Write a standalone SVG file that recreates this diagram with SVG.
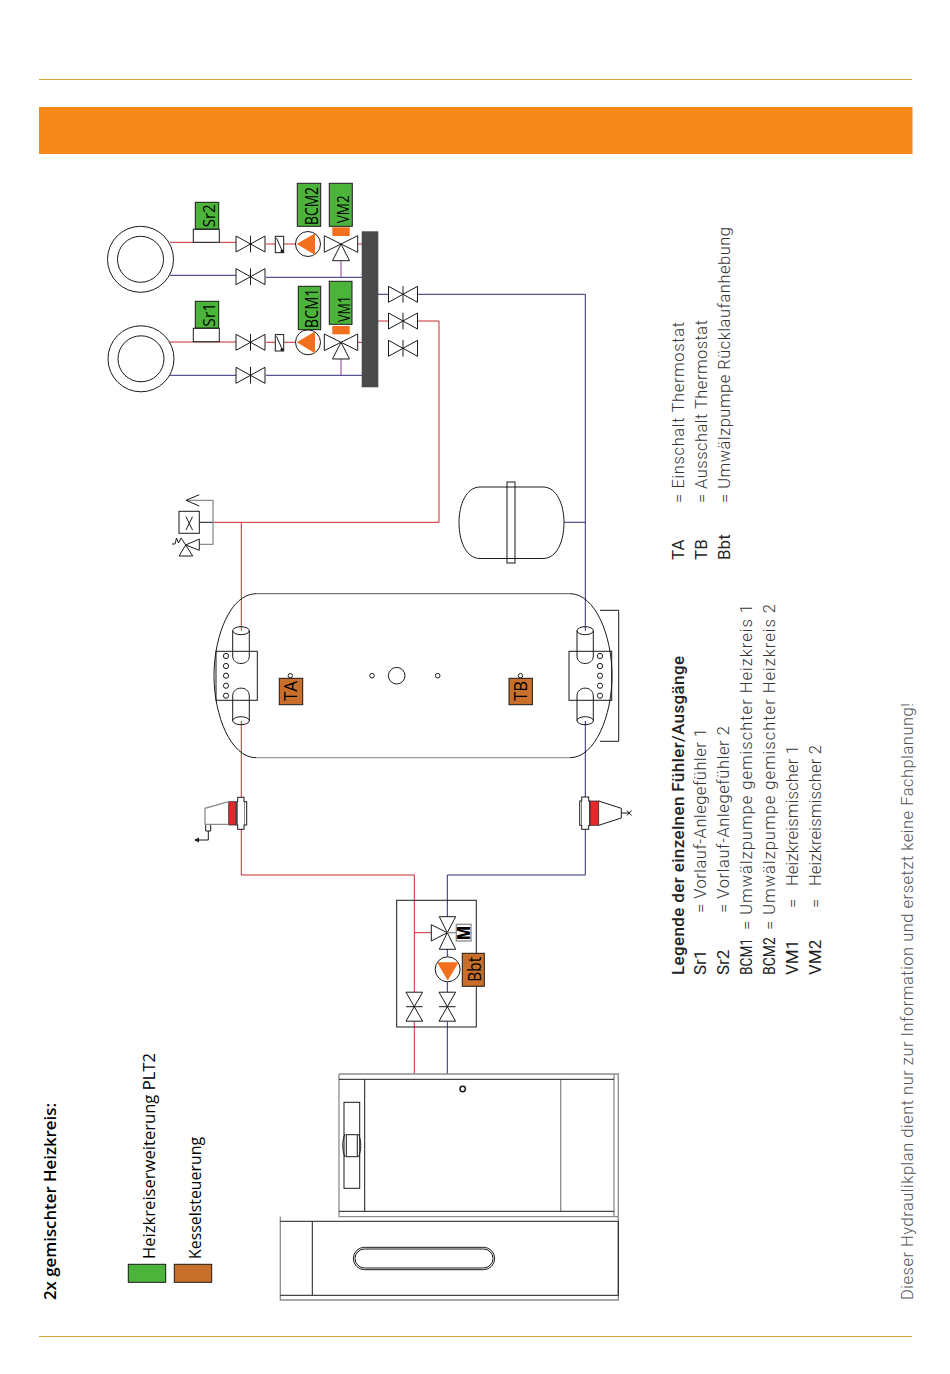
<svg xmlns="http://www.w3.org/2000/svg" width="950" height="1374" viewBox="0 0 950 1374">
<style>
.k{fill:none;stroke:#1a1a1a;stroke-width:1}
.w{fill:#fff;stroke:#1a1a1a;stroke-width:1}
.g{fill:none;stroke:#8c8c8c;stroke-width:1.3}
.r{fill:none;stroke:#c62a2f;stroke-width:1}
.b{fill:none;stroke:#2a2c78;stroke-width:1}
.p{fill:none;stroke:#8a3a8f;stroke-width:1}
.gr{fill:#4cb43a;stroke:#1a1a1a;stroke-width:1}
.br{fill:#c96f2c;stroke:#1a1a1a;stroke-width:1}
.or{fill:#f26f1e}
.l{font-family:"Open Sans","Noto Sans",sans-serif;fill:#000}
.t{font-family:Roboto,"Liberation Sans",sans-serif;font-weight:300;fill:#333;font-size:16.5px}
.h{font-family:Roboto,"Liberation Sans",sans-serif;font-weight:400;fill:#222;font-size:17px}
</style>
<defs>
<g id="vh"><path class="w" d="M-14.5-8 0 0-14.5 8ZM14.5-8 0 0 14.5 8Z"/><path class="k" d="M0-8.300V8.300"/></g>
<g id="vv"><path class="w" d="M-8.300-14.500 0 0 8.300-14.500ZM-8.300 14.500 0 0 8.300 14.500Z"/><path class="k" d="M-8.300 0H8.300"/></g>
<g id="mix"><path class="w" d="M-16.700-8.300 0 0-16.700 8.300ZM16.700-8.300 0 0 16.700 8.300ZM-8.500 16.700 0 0 8.500 16.700Z"/></g>
<g id="pump"><circle class="w" r="12.500"/><path class="or" d="M-11.300 0 7-10.700V11Z"/></g>
</defs>

<g id="frame">
<path d="M39 79.500H912M39 1336.500H912" fill="none" stroke="#d9a03c" stroke-width="1"/>
<rect x="39" y="107" width="873.500" height="47" fill="#f7881a"/>
</g>

<g id="connectors">
<path class="r" d="M170 242.300H236M266 244H275M284 244H296M350 244H362M170 342H236M266 342.300H275M284 342.300H296M350 342.300H362"/>
<path class="r" d="M378 321H389M418 321H439V522.300H213M241.300 522.300V630.700M241.300 721V797M241.300 829V875H414.300V917"/>
<path class="r" d="M414.300 932.700H431M414.300 917V992M414.300 1021.700V1074"/>
<path class="b" d="M170 275.300H236M266 277.300H362M170 375.300H236M266 375.300H362"/>
<path class="b" d="M378 294.300H389M418 294.300H585.300V630.700M585.300 721V797M585.300 829V875H447.300V917M447.300 949V957M447.300 982V992M447.300 1021.700V1074M564 522.300H585.300"/>
<path class="p" d="M341 261V277M341 359V375.300"/>
<path class="k" d="M199.300 522.300H213"/>
<path class="g" d="M186 500.300H213V544.300H199.300"/>
</g>

<g id="coil-2"><circle class="k" cx="140.500" cy="259.300" r="33"/><circle class="k" cx="140.500" cy="259.300" r="23"/></g>
<g id="coil-1"><circle class="k" cx="141" cy="358.800" r="33"/><circle class="k" cx="141" cy="358.800" r="23"/></g>

<g id="sr2"><rect class="w" x="193.300" y="229.300" width="26" height="13"/><rect class="gr" x="195.300" y="202.300" width="23.400" height="26.700"/><text class="l" font-size="17" transform="translate(215 227.300) rotate(-90)" textLength="23" lengthAdjust="spacingAndGlyphs">Sr2</text></g>
<g id="sr1"><rect class="w" x="193.300" y="328.300" width="26" height="13.400"/><rect class="gr" x="195.300" y="301.300" width="23.400" height="26.700"/><text class="l" font-size="17" transform="translate(215 326.700) rotate(-90)" textLength="24" lengthAdjust="spacingAndGlyphs">Sr1</text></g>

<g id="valves-2"><use href="#vh" x="250.500" y="244"/><use href="#vh" x="250.500" y="276.700"/></g>
<g id="valves-1"><use href="#vh" x="250.500" y="342.300"/><use href="#vh" x="250.500" y="375.300"/></g>

<g id="flow-2"><rect class="w" x="275.300" y="236.300" width="8.400" height="16.400"/><path class="k" d="M276.500 238 282 250.500"/><circle cx="282" cy="251" r="1.500" fill="#111"/></g>
<g id="flow-1"><rect class="w" x="275.300" y="334.600" width="8.400" height="16.400"/><path class="k" d="M276.500 336.300 282 349"/><circle cx="282" cy="349.500" r="1.500" fill="#111"/></g>

<g id="pump-2"><use href="#pump" x="308" y="244"/></g>
<g id="pump-1"><use href="#pump" x="308" y="342.300"/></g>

<g id="bcm2"><rect class="gr" x="297.300" y="183.300" width="23.400" height="43"/><text class="l" font-size="19" transform="translate(318 225) rotate(-90)" textLength="38" lengthAdjust="spacingAndGlyphs">BCM2</text></g>
<g id="bcm1"><rect class="gr" x="298.300" y="286.300" width="22.400" height="43.400"/><text class="l" font-size="19" transform="translate(318.300 328.300) rotate(-90)" textLength="40" lengthAdjust="spacingAndGlyphs">BCM1</text></g>

<g id="vm2"><rect class="gr" x="329.300" y="183.300" width="23" height="43"/><rect x="332.300" y="227.300" width="17.400" height="8.700" class="or"/><text class="l" font-size="17" transform="translate(349 223.300) rotate(-90)" textLength="28" lengthAdjust="spacingAndGlyphs">VM2</text><use href="#mix" x="341" y="244"/></g>
<g id="vm1"><rect class="gr" x="329.300" y="281.300" width="22.700" height="43"/><rect x="332.300" y="326" width="17.400" height="8.300" class="or"/><text class="l" font-size="17" transform="translate(349.500 322) rotate(-90)" textLength="26" lengthAdjust="spacingAndGlyphs">VM1</text><use href="#mix" x="341" y="342.300"/></g>

<g id="manifold"><rect x="361.700" y="231.300" width="16.600" height="156" fill="#4a4a4a"/></g>
<g id="manifold-valves"><use href="#vh" x="403" y="294.300"/><use href="#vh" x="403" y="321"/><use href="#vh" x="403" y="348.300"/></g>

<g id="safety">
<rect class="k" x="179" y="511.300" width="20.300" height="22"/>
<path class="k" d="M186 516.700 192.500 530M192.500 516.700 186 530" stroke-width="1.200"/>
<path class="k" d="M199.300 494.700 186 500.300 199.300 506"/>
<path class="w" d="M185.700 545 199.300 539V550.300ZM185.700 545 179 556H192.700Z"/>
<path class="k" d="M185.700 545 181 538 178.500 543 176.500 538 175 544H172"/>
</g>

<g id="tank">
<path d="M256 593.700H570" fill="none" stroke="#555" stroke-width="1"/>
<path d="M256 757.700H570" fill="none" stroke="#999" stroke-width="1.200"/>
<path class="k" d="M256 593.700C231 593.700 214 635 214 675.700C214 716 231 757.700 256 757.700M570 593.700C595 593.700 612 635 612 675.700C612 716 595 757.700 570 757.700"/>
<path class="k" d="M600 610.300H618.700V741.300H600"/>
<rect class="k" x="216" y="651.300" width="41.300" height="49"/>
<rect class="k" x="569" y="651.300" width="42.700" height="49"/>
<path class="k" d="M232.700 630.700V656C232.700 666 249.300 666 249.300 656V630.700M232.700 720.700V696C232.700 685.500 249.300 685.500 249.300 696V720.700"/>
<ellipse class="k" cx="241" cy="630.700" rx="8.300" ry="4"/><ellipse class="k" cx="241" cy="720.700" rx="8.300" ry="4"/>
<path class="k" d="M577 630.700V656C577 666 593.300 666 593.300 656V630.700M577 720.700V696C577 685.500 593.300 685.500 593.300 696V720.700"/>
<ellipse class="k" cx="585.200" cy="630.700" rx="8.200" ry="4"/><ellipse class="k" cx="585.200" cy="720.700" rx="8.200" ry="4"/>
<circle class="k" cx="226" cy="656" r="2.600"/><circle class="k" cx="226" cy="666" r="2.600"/><circle class="k" cx="226" cy="675.700" r="2.600"/><circle class="k" cx="226" cy="685.700" r="2.600"/><circle class="k" cx="226" cy="695.700" r="2.600"/>
<circle class="k" cx="600" cy="656" r="2.600"/><circle class="k" cx="600" cy="666" r="2.600"/><circle class="k" cx="600" cy="675.700" r="2.600"/><circle class="k" cx="600" cy="685.700" r="2.600"/><circle class="k" cx="600" cy="695.700" r="2.600"/>
<circle class="k" cx="396.700" cy="675.700" r="8.300"/><circle class="k" cx="372" cy="675.700" r="2.300"/><circle class="k" cx="437.700" cy="675.700" r="2.300"/>
<circle class="k" cx="290.300" cy="675.700" r="2.200"/><circle class="k" cx="520.500" cy="675.700" r="2.200"/>
</g>
<g id="ta"><rect class="br" x="279.300" y="678.300" width="23.400" height="26.400"/><text class="l" font-size="19" transform="translate(297.300 701) rotate(-90)" textLength="20" lengthAdjust="spacingAndGlyphs">TA</text></g>
<g id="tb"><rect class="br" x="509" y="678.300" width="23.400" height="26.400"/><text class="l" font-size="19" transform="translate(527 701) rotate(-90)" textLength="20" lengthAdjust="spacingAndGlyphs">TB</text></g>

<g id="vessel">
<path class="k" d="M480 487H543C557 487 564 505 564 522.500C564 541 557 558.500 543 558.500H480C466 558.500 459 541 459 522.500C459 505 466 487 480 487Z"/>
<rect class="k" x="507" y="482" width="8" height="81"/>
</g>

<g id="pump-flow">
<rect class="w" x="236.700" y="801.700" width="10" height="23.300"/><rect class="w" x="237.700" y="797.300" width="6.300" height="32"/><path d="M237.700 802H244V824.500H237.700Z" fill="#fff"/>
<rect x="228.700" y="801.700" width="7" height="23.300" fill="#e5262b" stroke="#333" stroke-width=".8"/>
<path class="g" d="M228.700 801.700 205 808.300V824.300H228.700"/>
<path class="k" d="M205.700 825V831H210.700V825M208.300 831V840H195"/><path d="M194 840 199 837.500V842.500Z" fill="#222"/>
</g>
<g id="pump-return">
<rect class="w" x="579.700" y="801" width="10" height="24.300"/><rect class="w" x="581.700" y="797" width="7" height="32.300"/><path d="M581.700 801.500H589V825H581.700Z" fill="#fff"/>
<rect x="590" y="801" width="8.700" height="24.300" fill="#e5262b" stroke="#333" stroke-width=".8"/>
<path class="k" d="M598.700 801 621.300 808.300V818L598.700 825.300M621.300 813H629.300M627 810.500 631.500 815.500M631.500 810.500 627 815.500"/>
</g>

<g id="mixing-group">
<rect class="k" x="396.700" y="900.300" width="79.600" height="126.700"/>
<use href="#vv" x="414.300" y="1006.700"/><use href="#vv" x="447.300" y="1006.700"/>
<use href="#pump" transform="translate(447.700 969.300) rotate(-90)"/>
<path class="w" d="M439.300 916.700H455.700L447.300 932.700ZM439.300 949.300H455.700L447.300 932.700ZM431.300 924.700V941L447.300 932.700Z"/>
<path class="g" d="M447.300 932.700H456.300"/>
<rect x="456.300" y="924.300" width="14.700" height="16.700" fill="#fff" stroke="#8c8c8c" stroke-width="1.300"/>
<text class="l" font-size="17.500" style="font-weight:800" transform="translate(470 940) rotate(-90)" textLength="14" lengthAdjust="spacingAndGlyphs">M</text>
<rect class="br" x="462.300" y="953.300" width="22" height="33"/>
<text class="l" font-size="18" transform="translate(480.700 981.700) rotate(-90)" textLength="25" lengthAdjust="spacingAndGlyphs">Bbt</text>
</g>

<g id="boiler">
<path class="g" d="M339 1074H618.300V1216.700M339 1074V1216.700H618.300M614 1074V1216.700M560.700 1079.300V1211.300"/>
<path class="k" d="M339 1079.300H614M339 1211.300H614M364.700 1079.300V1211.300"/>
<circle cx="462.700" cy="1089" r="2.700" fill="#fff" stroke="#1a1a1a" stroke-width="1.500"/>
<rect class="k" x="344" y="1102.300" width="15.700" height="86"/>
<rect class="k" x="346.300" y="1134.700" width="11" height="22"/>
<path class="k" d="M345 1134C342 1141 342 1150 345 1157M358.500 1134C361.500 1141 361.500 1150 358.500 1157"/>
<path class="g" d="M280.300 1216.700V1300H618.300V1216.700"/>
<path class="k" d="M280.300 1221.300H618.300M280.300 1295.300H618.300M312.300 1221.300V1295.300M618.300 1221.300V1295.300"/>
<rect class="k" x="353.300" y="1247.300" width="141.400" height="22.400" rx="11.200"/>
<rect class="k" x="355" y="1249" width="138" height="19" rx="9.500"/>
</g>

<g id="legend-key">
<rect class="gr" x="128.300" y="1264.300" width="37.400" height="18"/>
<rect class="br" x="174.300" y="1264.300" width="37.400" height="18"/>
<text class="l" font-size="16" font-weight="600" transform="translate(56 1300) rotate(-90)" textLength="197" lengthAdjust="spacingAndGlyphs">2x gemischter Heizkreis:</text>
<text class="l" font-size="16" transform="translate(155 1259) rotate(-90)" textLength="206" lengthAdjust="spacingAndGlyphs">Heizkreiserweiterung PLT2</text>
<text class="l" font-size="16" transform="translate(200.700 1259) rotate(-90)" textLength="122" lengthAdjust="spacingAndGlyphs">Kesselsteuerung</text>
</g>

<g id="legend">
<text class="h" style="font-weight:500" transform="translate(684 975) rotate(-90)" textLength="319">Legende der einzelnen Fühler/Ausgänge</text>
<text class="h" transform="translate(706 975) rotate(-90)">Sr1</text>
<text class="h" transform="translate(729 975) rotate(-90)">Sr2</text>
<text class="h" transform="translate(752 975) rotate(-90)" textLength="37" lengthAdjust="spacingAndGlyphs">BCM1</text>
<text class="h" transform="translate(775 975) rotate(-90)" textLength="38" lengthAdjust="spacingAndGlyphs">BCM2</text>
<text class="h" transform="translate(798 975) rotate(-90)">VM1</text>
<text class="h" transform="translate(821 975) rotate(-90)">VM2</text>
<text class="t" transform="translate(706 913) rotate(-90)" textLength="185">= Vorlauf-Anlegefühler 1</text>
<text class="t" transform="translate(729 913) rotate(-90)" textLength="187">= Vorlauf-Anlegefühler 2</text>
<text class="t" transform="translate(752 930) rotate(-90)" textLength="326">= Umwälzpumpe gemischter Heizkreis 1</text>
<text class="t" transform="translate(775 930) rotate(-90)" textLength="326">= Umwälzpumpe gemischter Heizkreis 2</text>
<text class="t" transform="translate(798 908) rotate(-90)" textLength="163">=&#160;&#160;&#160;Heizkreismischer 1</text>
<text class="t" transform="translate(821 908) rotate(-90)" textLength="163">=&#160;&#160;&#160;Heizkreismischer 2</text>
<text class="h" transform="translate(684 560) rotate(-90)">TA</text>
<text class="h" transform="translate(707 560) rotate(-90)">TB</text>
<text class="h" transform="translate(730 560) rotate(-90)">Bbt</text>
<text class="t" transform="translate(684 503) rotate(-90)" textLength="181">= Einschalt Thermostat</text>
<text class="t" transform="translate(707 503) rotate(-90)" textLength="183">= Ausschalt Thermostat</text>
<text class="t" transform="translate(730 503) rotate(-90)" textLength="276">= Umwälzpumpe Rücklaufanhebung</text>
<text class="t" style="fill:#555" transform="translate(913 1300) rotate(-90)" textLength="597">Dieser Hydraulikplan dient nur zur Information und ersetzt keine Fachplanung!</text>
</g>
</svg>
